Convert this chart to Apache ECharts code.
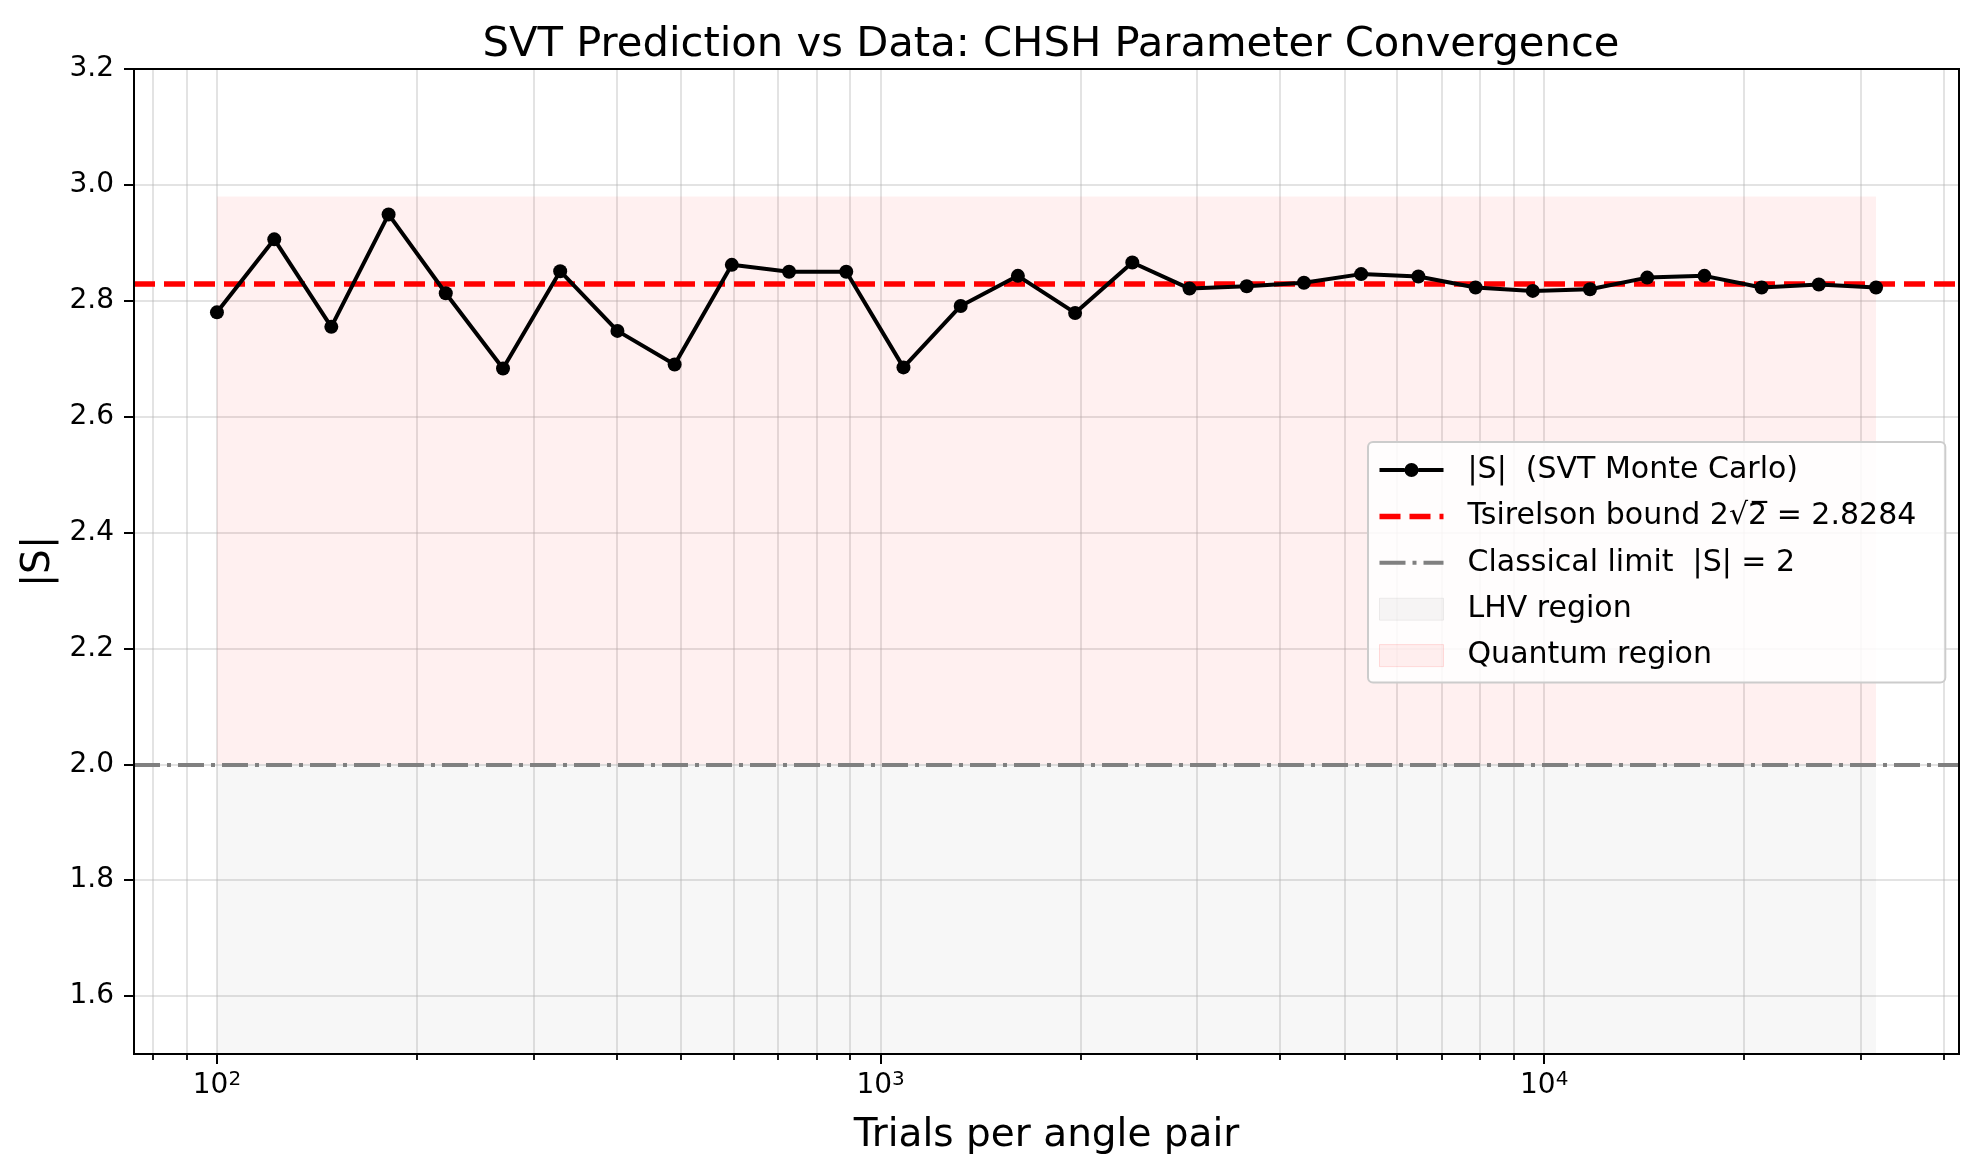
<!DOCTYPE html>
<html>
<head>
<meta charset="utf-8">
<script src="https://cdn.jsdelivr.net/npm/echarts@6/dist/echarts.min.js"></script>
<style>
  html, body { margin: 0; padding: 0; background: #fff; }
  #chart { width: 1980px; height: 1173px; }
</style>
</head>
<body>
<div id="chart"></div>
<script>
// trials per angle pair (log spaced)
const trials = [100, 122.0, 148.7, 181.4, 221.2, 269.8, 329.0, 401.3, 489.4, 596.8,
  727.9, 887.7, 1082.6, 1320.4, 1610.3, 1963.8, 2395.0, 2920.9, 3562.2, 4344.4,
  5298.3, 6461.7, 7880.5, 9610.8, 11721, 14295, 17433, 21261, 25929, 31623];
// |S| from the Monte Carlo run
const sValues = [2.780, 2.906, 2.755, 2.949, 2.813, 2.683, 2.851, 2.748, 2.690, 2.862,
  2.850, 2.850, 2.685, 2.791, 2.843, 2.779, 2.866, 2.821, 2.825, 2.831,
  2.846, 2.842, 2.823, 2.817, 2.820, 2.840, 2.843, 2.823, 2.828, 2.823];

const tsirelson = 2.8284;
const classical = 2.0;
const quantumTop = 2.98;
const lhvBottom = 1.5;

const yTicks = [1.6, 1.8, 2.0, 2.2, 2.4, 2.6, 2.8, 3.0, 3.2];
const xMajorTicks = [100, 1000, 10000];
const xMinorTicks = [80, 90, 200, 300, 400, 500, 600, 700, 800, 900,
  2000, 3000, 4000, 5000, 6000, 7000, 8000, 9000, 20000, 30000, 40000];

const X_MIN = 74.99, X_MAX = 42170;
const FONT = 'DejaVu Sans';
const gridColor = 'rgba(176,176,176,0.35)';

// legend glyphs (line + marker, dashed, dash-dot)
const ICON_MARKER_LINE = 'path://M0,9 L25.2,9 L25.2,13 L0,13 Z M38.8,9 L64,9 L64,13 L38.8,13 Z M25,11 A7,7 0 1,1 39,11 A7,7 0 1,1 25,11 Z';
const ICON_DASHED = 'path://M0,0 L21,0 L21,5.5 L0,5.5 Z M30,0 L51,0 L51,5.5 L30,5.5 Z M60,0 L64,0 L64,5.5 L60,5.5 Z';
const ICON_DASHDOT = 'path://M0,0 L26,0 L26,4 L0,4 Z M33,0 L37,0 L37,4 L33,4 Z M44,0 L64,0 L64,4 L44,4 Z';

const chart = echarts.init(document.getElementById('chart'));

const gridBox = { left: 134, right: 21, top: 69, bottom: 119 };

const option = {
  animation: false,
  backgroundColor: '#fff',
  textStyle: { fontFamily: FONT },
  title: {
    text: 'SVT Prediction vs Data: CHSH Parameter Convergence',
    left: 1046, textAlign: 'center', top: 19,
    textStyle: { fontFamily: FONT, fontSize: 41.7, fontWeight: 'normal', color: '#000', lineHeight: 42 }
  },
  grid: [
    Object.assign({ show: true, borderColor: '#000', borderWidth: 2, z: 10 }, gridBox),
    Object.assign({}, gridBox)
  ],
  legend: {
    orient: 'vertical',
    left: 1368, top: 442,
    padding: [13, 29, 12, 11],
    itemWidth: 64, itemHeight: 22, itemGap: 16.4,
    symbolKeepAspect: true,
    backgroundColor: 'rgba(255,255,255,0.85)',
    borderColor: '#cccccc', borderWidth: 2, borderRadius: 5,
    textStyle: { fontFamily: FONT, fontSize: 30, color: '#000', padding: [0, 0, 0, 19] },
    data: [
      { name: '|S|  (SVT Monte Carlo)', icon: ICON_MARKER_LINE, itemStyle: { color: '#000' } },
      { name: 'Tsirelson bound 2√2\u0305 = 2.8284', icon: ICON_DASHED, itemStyle: { color: '#ff0000' } },
      { name: 'Classical limit  |S| = 2', icon: ICON_DASHDOT, itemStyle: { color: '#808080' } },
      { name: 'LHV region', icon: 'rect', itemStyle: { color: 'rgba(128,128,128,0.07)', borderColor: 'rgba(128,128,128,0.12)', borderWidth: 1 } },
      { name: 'Quantum region', icon: 'rect', itemStyle: { color: 'rgba(255,0,0,0.06)', borderColor: 'rgba(255,0,0,0.12)', borderWidth: 1 } }
    ]
  },
  xAxis: [
    {
      type: 'log', logBase: 10, gridIndex: 0,
      min: X_MIN, max: X_MAX,
      name: 'Trials per angle pair',
      nameLocation: 'middle', nameGap: 62,
      nameTextStyle: { fontFamily: FONT, fontSize: 39, color: '#000' },
      axisLine: { show: true, onZero: false, lineStyle: { color: '#000', width: 2 } },
      axisTick: { show: true, length: 10, customValues: xMajorTicks, lineStyle: { color: '#000', width: 2 } },
      axisLabel: {
        customValues: xMajorTicks, margin: 16, color: '#000',
        formatter: function (v) {
          const e = Math.round(Math.log10(v));
          return '{b|10}{s|' + e + '}';
        },
        rich: {
          b: { fontFamily: FONT, fontSize: 28, lineHeight: 28, verticalAlign: 'bottom', color: '#000' },
          s: { fontFamily: FONT, fontSize: 20, lineHeight: 30, verticalAlign: 'top', color: '#000' }
        }
      },
      splitLine: { show: true, lineStyle: { color: gridColor, width: 2 } },
      minorTick: { show: false }
    },
    {
      type: 'log', logBase: 10, gridIndex: 1,
      min: X_MIN, max: X_MAX,
      axisLine: { show: false },
      axisTick: { show: true, length: 6, customValues: xMinorTicks, lineStyle: { color: '#000', width: 1.8 } },
      axisLabel: { show: false },
      splitLine: { show: true, lineStyle: { color: gridColor, width: 2 } }
    }
  ],
  yAxis: [
    {
      type: 'value', gridIndex: 0,
      min: 1.5, max: 3.2,
      name: '|S|',
      nameLocation: 'middle', nameGap: 72,
      nameTextStyle: { fontFamily: FONT, fontSize: 39, color: '#000' },
      axisLine: { show: true, lineStyle: { color: '#000', width: 2 } },
      axisTick: { show: true, length: 10, customValues: yTicks, lineStyle: { color: '#000', width: 2 } },
      axisLabel: {
        customValues: yTicks, margin: 20, color: '#000', fontSize: 28, fontFamily: FONT,
        formatter: function (v) { return v.toFixed(1); }
      },
      splitLine: { show: true, lineStyle: { color: gridColor, width: 2 } }
    },
    {
      type: 'value', gridIndex: 1, min: 0, max: 1, show: false,
      splitLine: { show: false }
    }
  ],
  series: [
    {
      name: 'LHV region',
      type: 'line', xAxisIndex: 0, yAxisIndex: 0,
      data: [],
      itemStyle: { color: 'rgba(128,128,128,0.07)' },
      markArea: {
        silent: true,
        itemStyle: { color: 'rgba(128,128,128,0.065)' },
        data: [[{ coord: [trials[0], lhvBottom] }, { coord: [trials[trials.length - 1], classical] }]]
      }
    },
    {
      name: 'Quantum region',
      type: 'line', xAxisIndex: 0, yAxisIndex: 0,
      data: [],
      itemStyle: { color: 'rgba(255,0,0,0.06)' },
      markArea: {
        silent: true,
        itemStyle: { color: 'rgba(255,0,0,0.058)' },
        data: [[{ coord: [trials[0], classical] }, { coord: [trials[trials.length - 1], quantumTop] }]]
      }
    },
    {
      name: 'Classical limit  |S| = 2',
      type: 'line', xAxisIndex: 0, yAxisIndex: 0,
      data: [], symbol: 'none',
      itemStyle: { color: '#808080' },
      lineStyle: { color: '#808080', width: 4, type: [26, 7, 4, 7] },
      markLine: {
        silent: true, symbol: ['none', 'none'], label: { show: false },
        lineStyle: { color: '#808080', width: 4, type: [26, 7, 4, 7] },
        data: [{ yAxis: classical }]
      }
    },
    {
      name: 'Tsirelson bound 2√2\u0305 = 2.8284',
      type: 'line', xAxisIndex: 0, yAxisIndex: 0,
      data: [], symbol: 'none',
      itemStyle: { color: '#ff0000' },
      lineStyle: { color: '#ff0000', width: 5.5, type: [21, 9] },
      markLine: {
        silent: true, symbol: ['none', 'none'], label: { show: false },
        lineStyle: { color: '#ff0000', width: 5.5, type: [21, 9] },
        data: [{ yAxis: tsirelson }]
      }
    },
    {
      name: '|S|  (SVT Monte Carlo)',
      type: 'line', xAxisIndex: 0, yAxisIndex: 0,
      data: trials.map((x, i) => [x, sValues[i]]),
      symbol: 'circle', symbolSize: 14, showSymbol: true,
      itemStyle: { color: '#000' },
      lineStyle: { color: '#000', width: 4 },
      z: 5
    }
  ]
};

chart.setOption(option);
</script>
</body>
</html>
